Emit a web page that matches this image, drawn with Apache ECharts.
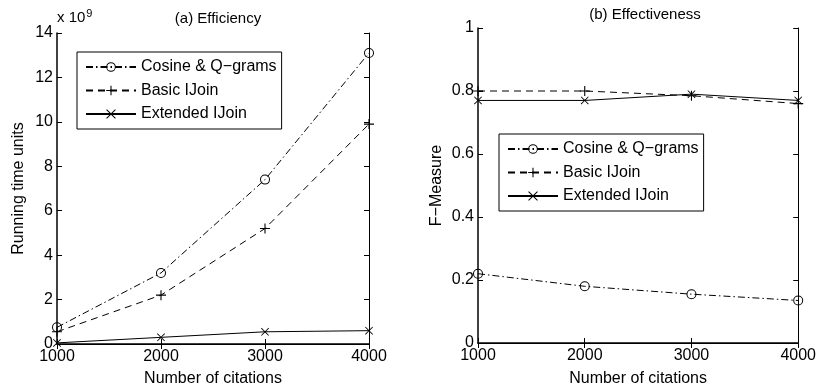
<!DOCTYPE html>
<html><head><meta charset="utf-8">
<script src="https://cdn.jsdelivr.net/npm/echarts@6/dist/echarts.min.js"></script>
<style>html,body{margin:0;padding:0;background:#fff}#c{width:819px;height:392px}</style>
</head><body><div id="c"></div>
<script>
var citations = [1000, 2000, 3000, 4000];
// (a) Efficiency, running time units (x 10^9)
var effCosine = [0.75, 3.2, 7.4, 13.1];
var effBasic = [0.55, 2.2, 5.2, 9.9];
var effExtended = [0.05, 0.3, 0.55, 0.6];
// (b) Effectiveness, F-Measure
var fCosine = [0.22, 0.18, 0.155, 0.135];
var fBasic = [0.8, 0.8, 0.785, 0.76];
var fExtended = [0.77, 0.77, 0.79, 0.77];
var seriesNames = ['Cosine & Q\u2212grams', 'Basic IJoin', 'Extended IJoin'];

var FONT = 'Liberation Sans';
var RING = 'path://M5,0A5,5,0,1,1,5,10A5,5,0,1,1,5,0ZM5,1A4,4,0,1,0,5,9A4,4,0,1,0,5,1Z';
var PLUS = 'path://M4.45,0h1.1v4.45h4.45v1.1h-4.45v4.45h-1.1v-4.45h-4.45v-1.1h4.45z';
var CROSS = 'path://M0,0.75L0.75,0L5,4.25L9.25,0L10,0.75L5.75,5L10,9.25L9.25,10L5,5.75L0.75,10L0,9.25L4.25,5Z';

function pairs(xs, ys) { return xs.map(function (x, i) { return [x, ys[i]]; }); }

function mkSeries(idx, vals, axisIdx) {
  var styles = [
    {type: [7, 3, 1.5, 3], symbol: RING, size: 10},
    {type: [7, 5], symbol: PLUS, size: 10},
    {type: 'solid', symbol: CROSS, size: 8}
  ];
  var s = styles[idx];
  return {
    type: 'line', name: seriesNames[idx], xAxisIndex: axisIdx, yAxisIndex: axisIdx,
    data: pairs(citations, vals),
    symbol: s.symbol, symbolSize: s.size, showSymbol: true,
    itemStyle: {color: '#000', borderWidth: 0},
    lineStyle: {color: '#000', width: 1, type: s.type},
    emphasis: {disabled: true},
    animation: false
  };
}

function plainFmt(v) { return String(v); }

function xAxes(gi, gap) {
  return [{
    gridIndex: gi, type: 'value', min: 1000, max: 4000, interval: 1000, position: 'bottom',
    name: 'Number of citations', nameLocation: 'middle', nameGap: gap,
    nameTextStyle: {fontFamily: FONT, fontSize: 16, color: '#000'},
    axisLine: {lineStyle: {color: '#000', width: 1.5}},
    axisTick: {inside: true, length: 5, lineStyle: {color: '#000'}},
    axisLabel: {fontFamily: FONT, fontSize: 16, color: '#000', margin: 5, formatter: plainFmt},
    splitLine: {show: false}
  }, {
    gridIndex: gi, type: 'value', min: 1000, max: 4000, interval: 1000, position: 'top',
    axisLine: {lineStyle: {color: '#000', width: 1}},
    axisTick: {inside: true, length: 5, lineStyle: {color: '#000'}},
    axisLabel: {show: false}, splitLine: {show: false}
  }];
}
function yAxes(gi, max, interval, name, gap, fmt) {
  return [{
    gridIndex: gi, type: 'value', min: 0, max: max, interval: interval, position: 'left',
    name: name, nameLocation: 'middle', nameGap: gap,
    nameTextStyle: {fontFamily: FONT, fontSize: 16, color: '#000'},
    axisLine: {show: true, lineStyle: {color: '#000', width: 1.5}},
    axisTick: {show: true, inside: true, length: 5, lineStyle: {color: '#000'}},
    axisLabel: {fontFamily: FONT, fontSize: 16, color: '#000', margin: 4, formatter: fmt},
    splitLine: {show: false}
  }, {
    gridIndex: gi, type: 'value', min: 0, max: max, interval: interval, position: 'right',
    axisLine: {show: true, lineStyle: {color: '#000', width: 1}},
    axisTick: {show: true, inside: true, length: 5, lineStyle: {color: '#000'}},
    axisLabel: {show: false}, splitLine: {show: false}
  }];
}

var s0 = [mkSeries(0, effCosine, 0), mkSeries(1, effBasic, 0), mkSeries(2, effExtended, 0)];
var s1 = [mkSeries(0, fCosine, 2), mkSeries(1, fBasic, 2), mkSeries(2, fExtended, 2)];

function legend(left, top) {
  return {
    left: left, top: top, orient: 'vertical',
    data: seriesNames,
    itemWidth: 50, itemHeight: 12, itemGap: 7.5,
    padding: [7, 5, 7, 8],
    borderColor: '#000', borderWidth: 1, backgroundColor: '#fff',
    textStyle: {fontFamily: FONT, fontSize: 16, color: '#000'},
    selectedMode: false
  };
}

var chart = echarts.init(document.getElementById('c'), null, {renderer: 'canvas'});
var opt = {
  backgroundColor: '#fff',
  animation: false,
  title: [
    {text: '(a) Efficiency', left: 213, top: 6, textAlign: 'center',
     textStyle: {fontFamily: FONT, fontSize: 15, fontWeight: 'normal', color: '#000'}},
    {text: '(b) Effectiveness', left: 640, top: 2, textAlign: 'center',
     textStyle: {fontFamily: FONT, fontSize: 15, fontWeight: 'normal', color: '#000'}}
  ],
  graphic: [{
    type: 'text', left: 57, top: 8,
    style: {text: 'x 10{s|9}', fill: '#000', font: '15px "Liberation Sans"',
            rich: {s: {fontSize: 11, fontFamily: FONT, verticalAlign: 'top', padding: [0, 0, 9, 1]}}}
  }],
  grid: [
    {left: 57, top: 33, width: 312, height: 311, show: false},
    {left: 478, top: 28, width: 321, height: 321, show: false}
  ],
  xAxis: xAxes(0, 27).concat(xAxes(1, 28)),
  yAxis: yAxes(0, 14, 2, 'Running time units', 30, plainFmt).concat(
         yAxes(1, 1, 0.2, 'F\u2212Measure', 33, function (v) { return v === 0 ? '0' : (v === 1 ? '1' : v.toFixed(1)); })),
  legend: [legend(77, 52), legend(499, 134)],
  series: s0.concat(s1)
};
chart.setOption(opt);
</script>
</body></html>
